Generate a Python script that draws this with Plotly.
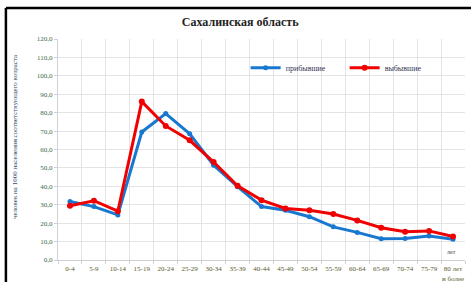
import plotly.graph_objects as go

categories = ["0-4", "5-9", "10-14", "15-19", "20-24", "25-29", "30-34", "35-39",
              "40-44", "45-49", "50-54", "55-59", "60-64", "65-69", "70-74",
              "75-79", "80 лет<br>и более"]
arrived = [31.8, 29.0, 24.5, 69.5, 79.5, 68.5, 51.5, 39.8,
           29.0, 27.0, 23.5, 18.0, 15.0, 11.5, 11.7, 13.0, 11.3]
departed = [29.5, 32.2, 26.5, 86.0, 72.8, 65.0, 53.2, 40.3,
            32.5, 28.0, 27.0, 25.0, 21.5, 17.5, 15.3, 15.8, 12.8]
series_names = ["прибывшие", "выбывшие"]
title_text = "Сахалинская область"
y_title = "человек на 1000 населения соответствующего возраста"
y_ticks = [0, 10, 20, 30, 40, 50, 60, 70, 80, 90, 100, 110, 120]

serif = "Liberation Serif, Times New Roman, serif"

fig = go.Figure()
fig.add_trace(go.Scatter(x=categories, y=arrived, name=series_names[0], mode="lines+markers",
                         line=dict(color="#1878d0", width=3),
                         marker=dict(size=5, color="#1878d0")))
fig.add_trace(go.Scatter(x=categories, y=departed, name=series_names[1], mode="lines+markers",
                         line=dict(color="#f00000", width=3),
                         marker=dict(size=6, color="#f00000")))

fig.update_layout(
    width=471, height=282,
    margin=dict(l=58, r=6, t=39, b=22, autoexpand=False),
    paper_bgcolor="white", plot_bgcolor="white",
    separators=", ",
    showlegend=True,
    legend=dict(orientation="h", x=0.461, y=0.87, xanchor="left", yanchor="middle",
                font=dict(family=serif, size=8, color="#333355"),
                entrywidth=54, entrywidthmode="pixels", itemwidth=30,
                bgcolor="rgba(0,0,0,0)"),
    title=dict(text="<b>" + title_text + "</b>", x=0.51, xanchor="center",
               y=0.922, yanchor="middle",
               font=dict(family=serif, size=12, color="#222222")),
)
fig.update_xaxes(type="category", range=[-0.5, len(categories) - 0.5],
                 tickson="boundaries", showgrid=True, gridcolor="#e4e4e4", gridwidth=1,
                 showline=True, linecolor="#d0d0d0", ticks="outside", ticklen=3,
                 tickcolor="#d0d0d0", mirror=False, tickangle=0, automargin=False,
                 ticklabelstandoff=2,
                 tickfont=dict(family=serif, size=7, color="#5a5a2a"))
fig.update_yaxes(range=[0, 120], tickvals=y_ticks, tickformat=".1f",
                 showgrid=True, gridcolor="#e4e4e4", gridwidth=1, zeroline=False,
                 showline=True, linecolor="#d0d0d0", ticks="outside", ticklen=3,
                 tickcolor="#d0d0d0", automargin=False,
                 tickfont=dict(family=serif, size=7, color="#3a6a4a"))

# axis title as rotated annotation
fig.add_annotation(text=y_title, xref="paper", yref="paper", x=-0.106, y=0.56,
                   textangle=-90, showarrow=False, xanchor="center", yanchor="middle",
                   font=dict(family=serif, size=7, color="#2a4a6a"))
# small unit label inside plot
fig.add_annotation(text="лет", xref="paper", yref="paper", x=0.968, y=0.035,
                   showarrow=False, xanchor="center", yanchor="middle",
                   font=dict(family=serif, size=6, color="#444444"))

# black frame (top and left) of the original screenshot
fig.add_shape(type="line", xref="paper", yref="paper", x0=-0.128, x1=1.02, y0=1.14, y1=1.14,
              line=dict(color="black", width=2.5))
fig.add_shape(type="line", xref="paper", yref="paper", x0=-0.128, x1=-0.128, y0=-0.11, y1=1.14,
              line=dict(color="black", width=2.5))

fig.write_html("out.html", config={"displayModeBar": False},
               post_script="document.body.style.margin='0px';")
